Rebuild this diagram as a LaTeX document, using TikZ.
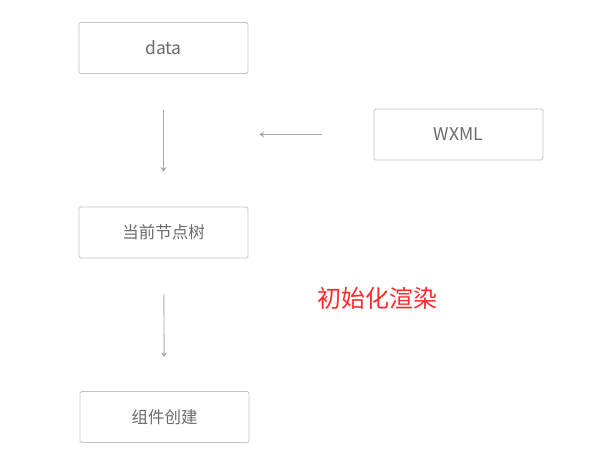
\documentclass[tikz,border=0pt]{standalone}
\usepackage{fontspec}
\setmainfont{Noto Sans CJK SC}
\usepackage{tikz}
\usetikzlibrary{arrows.meta}
\definecolor{boxgray}{HTML}{C4C4C4}
\definecolor{linegray}{HTML}{A8A8A8}
\definecolor{textgray}{HTML}{6A6A6A}
\definecolor{hintred}{HTML}{FF2A2A}
\begin{document}
\begin{tikzpicture}[x=1pt, y=-1pt,
    >={Stealth[length=4.5pt, width=6pt]},
    stagebox/.style={draw=boxgray, line width=0.8pt, rounded corners=1.5pt,
      minimum width=169pt, minimum height=51pt, inner sep=0pt,
      font=\fontsize{16.5}{19}\selectfont, text=textgray},
    latin/.style={font=\fontsize{17.5}{20}\selectfont},
    flow/.style={->, draw=linegray, line width=0.9pt}]
        \useasboundingbox (0,0) rectangle (613,457);
        \node[stagebox, latin] (DATA) at (163.5, 48) {data};
        \node[stagebox, latin] (WXML) at (458.5, 134.5) {WXML};
        \node[stagebox] (TREE) at (163.5, 232.5) {当前节点树};
        \node[stagebox] (COMP) at (164.5, 417) {组件创建};
        \coordinate (JOIN) at (163.5, 134.5);
        % caption
        \node[font=\fontsize{24}{28}\selectfont, text=hintred]
          (INIT) at (377.5, 298) {初始化渲染};
        % data and wxml feed the tree
        \draw[flow, shorten <=36pt, shorten >=35pt] (DATA) -- (TREE);
        \draw[flow, shorten <=52pt, shorten >=96pt] (WXML) -- (JOIN);
        % tree to components
        \draw[flow, shorten <=36pt, shorten >=34pt] (TREE) -- (COMP);
      \end{tikzpicture}
\end{document}
